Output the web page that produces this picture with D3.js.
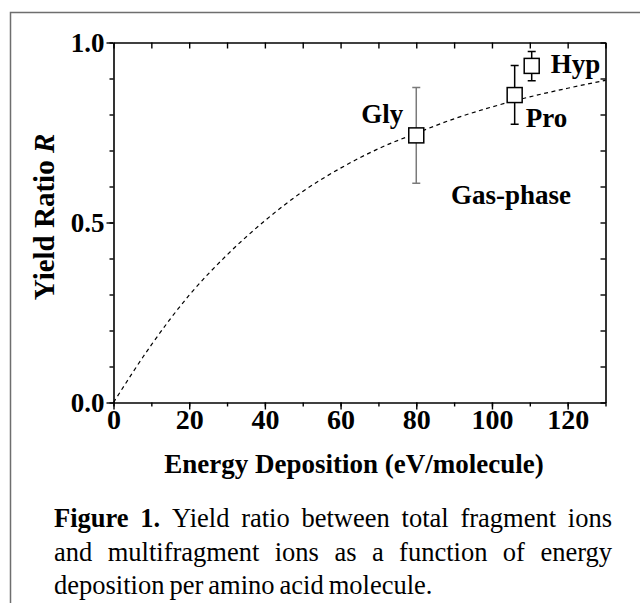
<!DOCTYPE html>
<html>
<head>
<meta charset="utf-8">
<script src="https://cdn.jsdelivr.net/npm/d3@7"></script>
<style>
  body { margin: 0; background: #fff; }
  svg { display: block; }
  text { font-family: "Liberation Serif", "Times New Roman", serif; fill: #000; }
</style>
</head>
<body>
<svg id="chart" width="640" height="603"></svg>
<script>
// fitted curve
const fitEnergy = [0, 10, 20, 30, 40, 50, 60, 70, 80, 90, 100, 110, 120, 130];
const fitRatio = [0, 0.160, 0.298, 0.410, 0.505, 0.586, 0.651, 0.705, 0.748, 0.788, 0.821, 0.849, 0.873, 0.895];

// measured points
const samples = ["Gly", "Pro", "Hyp"];
const energy = [80, 106, 110.5];
const ratio = [0.742, 0.854, 0.935];
const errLow = [0.609, 0.773, 0.894];
const errHigh = [0.875, 0.936, 0.975];

const xTicks = [0, 20, 40, 60, 80, 100, 120];
const yTicks = [0.0, 0.5, 1.0];

const captionLines = [
    [["Figure", true], ["1.", true], ["Yield"], ["ratio"], ["between"], ["total"], ["fragment"], ["ions"]],
    [["and"], ["multifragment"], ["ions"], ["as"], ["a"], ["function"], ["of"], ["energy"]],
    [["deposition"], ["per"], ["amino"], ["acid"], ["molecule."]]
];

const svg = d3.select("#chart");
const W = 640, H = 603;
const plot = {left: 113.5, right: 605.5, top: 42.5, bottom: 402.5};

svg.append("rect").attr("width", W).attr("height", H).attr("fill", "#fff");

// outer frame (only top and left visible)
svg.append("path")
    .attr("d", d3.line()([[10.5, H], [10.5, 12.5], [W, 12.5]]))
    .attr("fill", "none").attr("stroke", "#6e6e6e").attr("stroke-width", 1.5);

let x = d3.scaleLinear().domain([0, 130]).range([plot.left, plot.right]);
let y = d3.scaleLinear().domain([0, 1]).range([plot.bottom, plot.top]);

let minorX = d3.range(0, 131, 10);
let minorY = d3.range(0, 1.01, 0.1);

// bottom axis
svg.append("g").attr("transform", `translate(0,${plot.bottom})`)
    .call(d3.axisBottom(x).tickValues(minorX).tickSizeInner(4).tickSizeOuter(0).tickFormat(""));
svg.append("g").attr("transform", `translate(0,${plot.bottom})`)
    .call(d3.axisBottom(x).tickValues(xTicks).tickSizeInner(7).tickSizeOuter(0).tickPadding(2).tickFormat(d3.format("d")))
    .call(g => g.select(".domain").remove())
    .selectAll("text").attr("font-size", 28).attr("font-weight", "bold")
        .attr("font-family", "Liberation Serif").attr("dy", "0.62em");

// left axis
svg.append("g").attr("transform", `translate(${plot.left},0)`)
    .call(d3.axisLeft(y).tickValues(minorY).tickSizeInner(4).tickSizeOuter(0).tickFormat(""));
svg.append("g").attr("transform", `translate(${plot.left},0)`)
    .call(d3.axisLeft(y).tickValues(yTicks).tickSizeInner(7).tickSizeOuter(0).tickPadding(2).tickFormat(d3.format(".1f")))
    .call(g => g.select(".domain").remove())
    .selectAll("text").attr("font-size", 27).attr("font-weight", "bold")
        .attr("font-family", "Liberation Serif").attr("dy", "0.34em");

// top and right axes, ticks pointing in
svg.append("g").attr("transform", `translate(0,${plot.top})`)
    .call(d3.axisBottom(x).tickValues(minorX).tickSizeInner(6).tickSizeOuter(0).tickFormat(""));
svg.append("g").attr("transform", `translate(${plot.right},0)`)
    .call(d3.axisLeft(y).tickValues(minorY).tickSizeInner(5).tickSizeOuter(0).tickFormat(""));

svg.selectAll(".domain").attr("stroke", "#000").attr("stroke-width", 1.6);
svg.selectAll(".tick line").attr("stroke", "#000").attr("stroke-width", 1.4);

// dashed fit
let fit = fitEnergy.map((e, i) => [e, fitRatio[i]]);
svg.append("path")
    .datum(fit)
    .attr("d", d3.line().x(d => x(d[0])).y(d => y(d[1])).curve(d3.curveMonotoneX))
    .attr("fill", "none").attr("stroke", "#000").attr("stroke-width", 1.2)
    .attr("stroke-dasharray", "4,3.5");

// data points with error bars
let points = samples.map((s, i) => ({
    name: s, e: energy[i], r: ratio[i], lo: errLow[i], hi: errHigh[i]
}));

let gPoint = svg.selectAll("g.point").data(points).enter()
    .append("g").attr("class", d => `point ${d.name}`);

gPoint.append("path")
    .attr("d", d => {
        let cx = x(d.e), cap = 4;
        return `M${cx},${y(d.lo)}V${y(d.hi)}`
            + `M${cx - cap},${y(d.lo)}H${cx + cap}`
            + `M${cx - cap},${y(d.hi)}H${cx + cap}`;
    })
    .attr("fill", "none")
    .attr("stroke", d => d.name === "Gly" ? "#7a7a7a" : "#000")
    .attr("stroke-width", 1.5);

gPoint.append("rect")
    .attr("x", d => x(d.e) - 7.5).attr("y", d => y(d.r) - 7.5)
    .attr("width", 15).attr("height", 15)
    .attr("fill", "#fff").attr("stroke", "#000").attr("stroke-width", 1.5);

// annotation labels
const labelOffset = {Gly: [-55, -12], Pro: [11, 32], Hyp: [19, 7]};
gPoint.append("text")
    .attr("x", d => x(d.e) + labelOffset[d.name][0])
    .attr("y", d => y(d.r) + labelOffset[d.name][1])
    .attr("font-size", 27).attr("font-weight", "bold")
    .text(d => d.name);

svg.append("text")
    .attr("x", 451).attr("y", 204)
    .attr("font-size", 27).attr("font-weight", "bold")
    .text("Gas-phase");

// axis titles
svg.append("text")
    .attr("x", 354).attr("y", 473)
    .attr("text-anchor", "middle")
    .attr("font-size", 27).attr("font-weight", "bold")
    .text("Energy Deposition (eV/molecule)");

let yTitle = svg.append("text")
    .attr("transform", `translate(54,217) rotate(-90)`)
    .attr("text-anchor", "middle")
    .attr("font-size", 29).attr("font-weight", "bold");
yTitle.append("tspan").text("Yield Ratio ");
yTitle.append("tspan").attr("font-style", "italic").text("R");

// caption, justified
const capLeft = 54, capRight = 612, capTop = 527, capStep = 33.5;
captionLines.forEach((words, li) => {
    let g = svg.append("g");
    let nodes = words.map(w => g.append("text")
        .attr("y", capTop + li * capStep)
        .attr("font-size", 26.5)
        .attr("font-weight", w[1] ? "bold" : "normal")
        .text(w[0]));
    let widths = nodes.map(n => n.node().getComputedTextLength());
    let total = d3.sum(widths);
    let last = li === captionLines.length - 1;
    let gap = last ? 5 : (capRight - capLeft - total) / (words.length - 1);
    let cx = capLeft;
    nodes.forEach((n, i) => {
        n.attr("x", cx);
        cx += widths[i] + gap;
    });
});
</script>
</body>
</html>
